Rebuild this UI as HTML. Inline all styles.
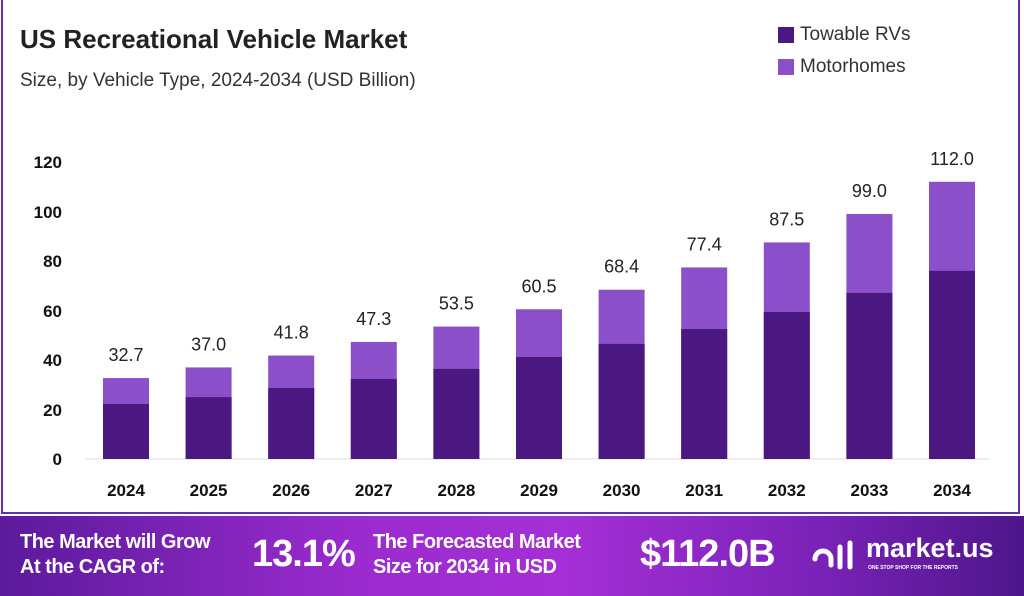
<!DOCTYPE html><html><head><style>
body{margin:0;width:1024px;height:596px;background:#fff;font-family:"Liberation Sans",sans-serif;position:relative;overflow:hidden}
.frame{position:absolute;left:1px;top:0;width:1019px;height:514px;border:2px solid #6a2ea8;border-top:none;box-sizing:border-box}
.t{position:absolute;white-space:nowrap}
.foot{position:absolute;left:0;top:516px;width:1024px;height:80px;background:linear-gradient(90deg,#5b1a9c 0%,#9b2bcf 35%,#a52fd6 55%,#7a22b8 80%,#4d168a 100%)}
.f{position:absolute;color:#fff;font-weight:bold;white-space:nowrap}
</style></head><body>
<div class="frame"></div>
<div class="t" style="left:20px;top:24px;font-size:26px;font-weight:bold;color:#222">US Recreational Vehicle Market</div>
<div class="t" style="left:20px;top:70px;font-size:19px;color:#333">Size, by Vehicle Type, 2024-2034 (USD Billion)</div>
<div style="position:absolute;left:778px;top:27px;width:16px;height:16px;background:#4b1780"></div>
<div class="t" style="left:800px;top:24px;font-size:19px;color:#333">Towable RVs</div>
<div style="position:absolute;left:778px;top:59px;width:16px;height:16px;background:#8b4fc9"></div>
<div class="t" style="left:800px;top:56px;font-size:19px;color:#333">Motorhomes</div>
<svg width="1024" height="520" style="position:absolute;left:0;top:0" font-family="Liberation Sans">
<g font-size="17" font-weight="bold" fill="#111" text-anchor="end">
<text x="62" y="168">120</text><text x="62" y="218">100</text><text x="62" y="267">80</text><text x="62" y="317">60</text><text x="62" y="366">40</text><text x="62" y="416">20</text><text x="62" y="465">0</text></g>
<line x1="85" y1="459" x2="990" y2="459" stroke="#ddd"/>
<g id="b"></g>
</svg>
<script>
var tot=[32.7,37.0,41.8,47.3,53.5,60.5,68.4,77.4,87.5,99.0,112.0],tw=[22.2,25,28.7,32.3,36.4,41.2,46.5,52.5,59.4,67.1,76],s='';
for(var i=0;i<11;i++){var cx=126+i*82.6,x=cx-23,yt=459-tot[i]*2.475,yw=459-tw[i]*2.475;
s+='<rect x="'+x+'" y="'+yt+'" width="46" height="'+(459-yt)+'" fill="#8b4fc9"/>';
s+='<rect x="'+x+'" y="'+yw+'" width="46" height="'+(459-yw)+'" fill="#4b1780"/>';
s+='<text x="'+cx+'" y="'+(yt-17)+'" font-size="18" fill="#222" text-anchor="middle">'+tot[i].toFixed(1)+'</text>';
s+='<text x="'+cx+'" y="496" font-size="17" font-weight="bold" fill="#111" text-anchor="middle">'+(2024+i)+'</text>';}
document.getElementById('b').innerHTML=s;
</script>
<div class="foot"></div>
<div class="f" style="left:20px;top:530px;font-size:20px;line-height:25px;letter-spacing:-0.5px">The Market will Grow<br>At the CAGR of:</div>
<div class="f" style="left:252px;top:533px;font-size:38px;letter-spacing:-1px">13.1%</div>
<div class="f" style="left:373px;top:530px;font-size:20px;line-height:25px;letter-spacing:-0.5px">The Forecasted Market<br>Size for 2034 in USD</div>
<div class="f" style="left:640px;top:533px;font-size:38px;letter-spacing:-1px">$112.0B</div>
<svg width="50" height="40" style="position:absolute;left:810px;top:537px"><g fill="none" stroke="#fff" stroke-width="5" stroke-linecap="round"><path d="M5 22 a8 8 0 1 1 16 0 v6"/><path d="M30 10 v20"/><path d="M40 6 v24"/></g></svg>
<div class="f" style="left:866px;top:533px;font-size:27px">market.us</div>
<div class="f" style="left:868px;top:565px;font-size:5px">ONE STOP SHOP FOR THE REPORTS</div>
</body></html>
